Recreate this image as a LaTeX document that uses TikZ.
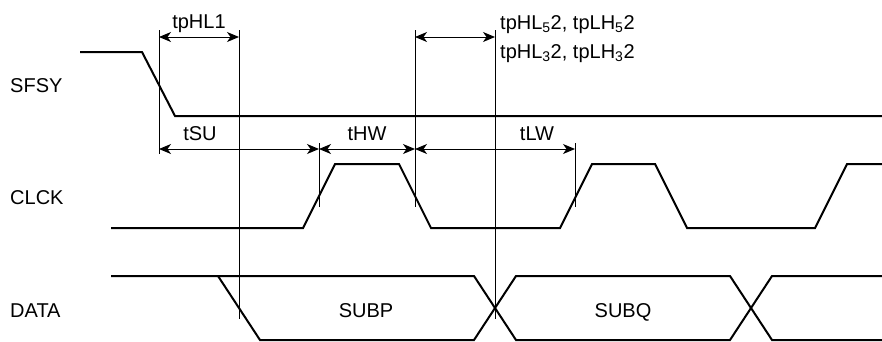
\documentclass[tikz,border=0pt]{standalone}
\usepackage{fontspec}
\setmainfont{Liberation Sans}
\usetikzlibrary{arrows.meta}

\begin{document}
\begin{tikzpicture}[x=1pt,y=-1pt,font=\fontsize{20}{24}\selectfont,
  sig/.style={line width=2pt},
  vline/.style={line width=1pt},
  lbl/.style={inner sep=0pt,anchor=base},
  >={Stealth[length=12pt,width=10pt,inset=3.5pt]}]
\useasboundingbox (0,0) rectangle (882,341);
% signal names
\node[lbl,anchor=base west] (sfsy) at (10,92) {SFSY};
\node[lbl,anchor=base west] (clck) at (10,204) {CLCK};
\node[lbl,anchor=base west] (data) at (10,317) {DATA};
% waveforms
\draw[sig] (80,52) -- (142,52) -- (175,116) -- (882,116);
\draw[sig] (111,228) -- (303,228) -- (335,164) -- (399,164) -- (431,228) -- (560,228) -- (592,164) -- (655,164) -- (687,228) -- (815,228) -- (847,164) -- (882,164);
\draw[sig] (111,276) -- (474,276) -- (516,340) -- (730,340) -- (772,276) -- (882,276);
\draw[sig] (218,276) -- (260,340) -- (474,340) -- (516,276) -- (730,276) -- (772,340) -- (882,340);
\node[lbl] (subp) at (366,317) {SUBP};
\node[lbl] (subq) at (623,317) {SUBQ};
% timing marks
\draw[vline] (159,30) -- (159,154);
\draw[vline] (239,30) -- (239,319);
\draw[vline] (319,143) -- (319,207);
\draw[vline] (415,30) -- (415,207);
\draw[vline] (495,30) -- (495,319);
\draw[vline] (575,143) -- (575,207);
\draw[vline,<->] (159,37) -- (239,37);
\draw[vline,<->] (415,37) -- (495,37);
\draw[vline,<->] (159,149) -- (319,149);
\draw[vline,<->] (319,149) -- (415,149);
\draw[vline,<->] (415,149) -- (575,149);
\node[lbl] (tphl) at (199,28) {tpHL1};
\node[lbl,anchor=base west] (tpa) at (500,29) {tpHL\textsubscript{5}2, tpLH\textsubscript{5}2};
\node[lbl,anchor=base west] (tpb) at (500,58) {tpHL\textsubscript{3}2, tpLH\textsubscript{3}2};
\node[lbl] (tsu) at (200,140) {tSU};
\node[lbl] (thw) at (367,140) {tHW};
\node[lbl] (tlw) at (537,140) {tLW};
\end{tikzpicture}
\end{document}
